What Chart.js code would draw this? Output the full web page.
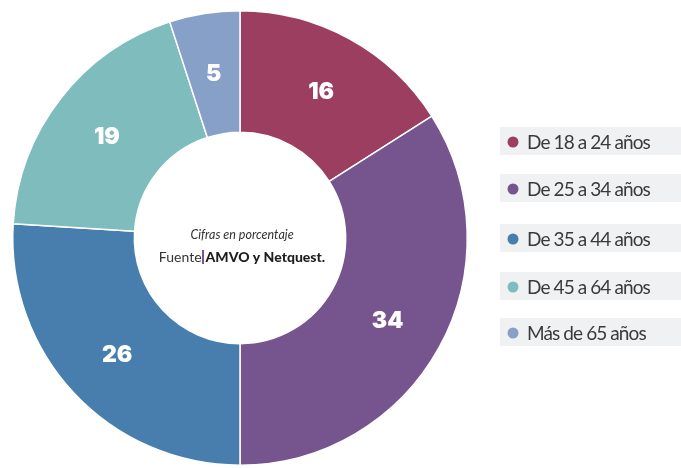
<!DOCTYPE html>
<html>
<head>
<meta charset="utf-8">
<script src="https://cdn.jsdelivr.net/npm/chart.js@4/dist/chart.umd.min.js"></script>
<style>
  html, body { margin: 0; padding: 0; background: #fff; }
  #wrap { width: 681px; height: 468px; position: relative; }
</style>
</head>
<body>
<div id="wrap"><canvas id="donut" width="681" height="468"></canvas></div>
<script>
var labels = ['De 18 a 24 años', 'De 25 a 34 años', 'De 35 a 44 años', 'De 45 a 64 años', 'Más de 65 años'];
var values = [16, 34, 26, 19, 5];
var colors = ['#9b3e5f', '#76548e', '#477ead', '#7ebcbd', '#86a0c8'];

// numbers inside the ring
var sliceLabels = {
  id: 'sliceLabels',
  afterDatasetsDraw: function (chart) {
    var ctx = chart.ctx;
    var meta = chart.getDatasetMeta(0);
    ctx.save();
    ctx.fillStyle = '#fff';
    ctx.font = '900 23px Inter, Lato, sans-serif';
    ctx.textAlign = 'center';
    ctx.textBaseline = 'middle';
    meta.data.forEach(function (arc, i) {
      var p = arc.getProps(['startAngle', 'endAngle', 'innerRadius', 'outerRadius', 'x', 'y'], true);
      var a = (p.startAngle + p.endAngle) / 2;
      var r = (p.innerRadius + p.outerRadius) / 2 + 2;
      ctx.fillText(String(values[i]), p.x + Math.cos(a) * r, p.y + Math.sin(a) * r + 2);
    });
    ctx.restore();
  }
};

// source note in the hole
var centerNote = {
  id: 'centerNote',
  afterDraw: function (chart) {
    var ctx = chart.ctx;
    var meta = chart.getDatasetMeta(0);
    var cx = meta.data[0].x, cy = meta.data[0].y;
    ctx.save();
    ctx.textBaseline = 'middle';
    ctx.fillStyle = '#333';
    ctx.textAlign = 'center';
    ctx.font = 'italic 12.5px Lato, sans-serif';
    ctx.fillText('Cifras en porcentaje', cx + 2, cy - 3);

    var a = 'Fuente', b = 'AMVO y Netquest.';
    ctx.font = '14px Lato, sans-serif';
    var wa = ctx.measureText(a).width;
    ctx.font = '900 14px Lato, sans-serif';
    var wb = ctx.measureText(b).width;
    var total = wa + 4 + wb;
    var x = cx + 2 - total / 2, y = cy + 19;
    ctx.textAlign = 'left';
    ctx.font = '14px Lato, sans-serif';
    ctx.fillText(a, x, y);
    ctx.fillStyle = '#76548e';
    ctx.fillRect(x + wa + 0.5, y - 7, 2, 14);
    ctx.fillStyle = '#1e1e1e';
    ctx.font = '900 14px Lato, sans-serif';
    ctx.fillText(b, x + wa + 4, y);
    ctx.restore();
  }
};

// legend on the right with grey bands
var sideLegend = {
  id: 'sideLegend',
  afterDraw: function (chart) {
    var ctx = chart.ctx;
    var ds = chart.data.datasets[0];
    var rows = [141, 188, 238, 286, 332];
    ctx.save();
    chart.data.labels.forEach(function (lab, i) {
      var y = rows[i];
      ctx.fillStyle = '#f0f1f2';
      ctx.fillRect(500, y - 14, 181, 28);
      ctx.fillStyle = ds.backgroundColor[i];
      ctx.beginPath();
      ctx.arc(513, y + 1, 5.5, 0, Math.PI * 2);
      ctx.fill();
      ctx.fillStyle = '#3a3a3a';
      ctx.font = '19px Lato, sans-serif';
      ctx.letterSpacing = '-0.9px';
      ctx.textBaseline = 'middle';
      ctx.textAlign = 'left';
      ctx.fillText(lab, 527, y + 2);
    });
    ctx.restore();
  }
};

var ctx = document.getElementById('donut').getContext('2d');
new Chart(ctx, {
  type: 'doughnut',
  data: {
    labels: labels,
    datasets: [{
      data: values,
      backgroundColor: colors,
      borderColor: '#fff',
      borderWidth: 1.5
    }]
  },
  options: {
    responsive: false,
    animation: false,
    cutout: '46.5%',
    layout: { padding: { left: 12, right: 213, top: 10, bottom: 2 } },
    plugins: {
      legend: { display: false },
      tooltip: { enabled: false }
    }
  },
  plugins: [sliceLabels, centerNote, sideLegend]
});
</script>
</body>
</html>
